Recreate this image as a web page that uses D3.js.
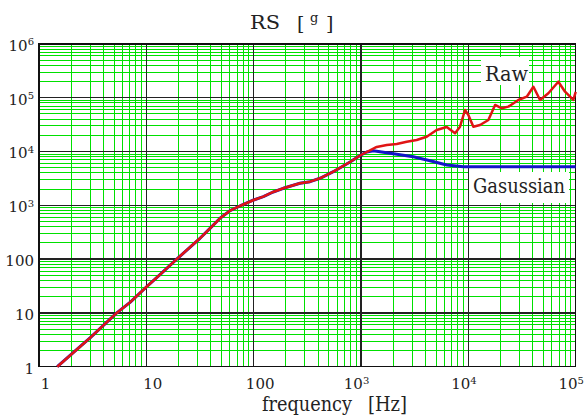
<!DOCTYPE html>
<html><head><meta charset="utf-8">
<script src="https://cdn.jsdelivr.net/npm/d3@7/dist/d3.min.js"></script>
<style>
body{margin:0;background:#fff}svg{display:block}
svg text{font-family:"DejaVu Serif","Noto Serif",Georgia,serif;}
</style>
</head><body>
<svg id="c" width="584" height="420"></svg>
<script>
// ---- data ----
const rawFreq = [1.48, 2.41, 2.99, 5.3, 7.05, 10, 13.4, 19.2, 31.6, 39.2, 48.6, 60.2, 74.6, 100, 123, 152, 189, 270, 335, 415, 552, 790, 979, 1130, 1400, 1738, 2152, 2666, 3302, 4090, 5067, 6290, 7520, 8360, 9310, 10000, 11130, 12850, 15360, 17740, 20480, 23590, 29240, 35000, 40360, 46560, 55640, 68900, 79600, 95000, 100000];
const rawValue = [1, 2.35, 3.43, 10, 15.7, 30.3, 51.4, 100, 244, 374, 575, 796, 973, 1258, 1449, 1772, 2076, 2570, 2754, 3186, 4227, 6400, 8450, 9820, 12170, 13250, 13830, 15280, 16420, 18900, 25200, 28650, 21870, 29040, 59300, 47860, 29040, 31190, 38650, 73450, 63800, 68400, 91000, 104800, 160700, 91000, 121300, 199100, 129800, 91000, 128200];
const gaussFreq = [1.48, 2.41, 2.99, 5.3, 7.05, 10, 13.4, 19.2, 31.6, 39.2, 48.6, 60.2, 74.6, 100, 123, 152, 189, 270, 335, 415, 552, 790, 979, 1130, 1303, 1503, 2152, 3070, 4395, 6290, 8980, 12850, 30000, 100000];
const gaussValue = [1, 2.35, 3.43, 10, 15.7, 30.3, 51.4, 100, 244, 374, 575, 796, 973, 1258, 1449, 1772, 2076, 2570, 2754, 3186, 4227, 6400, 8450, 9820, 10380, 9950, 8900, 8030, 6760, 5625, 5236, 5236, 5200, 5200];
const xTickValues = [1, 10, 100, 1e3, 1e4, 1e5];
const xTickLabels = ["1", "10", "100", "10^3", "10^4", "10^5"];
const yTickValues = [1, 10, 100, 1e3, 1e4, 1e5, 1e6];
const yTickLabels = ["1", "10", "100", "10^3", "10^4", "10^5", "10^6"];
const titleText = ["RS", "[", "g", "]"];
const xAxisTitle = ["frequency", "[Hz]"];
const seriesLabels = ["Raw", "Gasussian"];

// ---- drawing ----
const svg = d3.select("#c");
const x = d3.scaleLog().domain([1, 1e5]).range([39, 575.7]);
const y = d3.scaleLog().domain([1, 1e6]).range([366.7, 44]);
const [x0, x1] = x.range();
const [y0, y1] = y.range();
const isMajor = v => Math.abs(Math.log10(v) - Math.round(Math.log10(v))) < 1e-9;

svg.append("rect").attr("width", 584).attr("height", 420).attr("fill", "#fff");

const grid = svg.append("g").attr("shape-rendering", "crispEdges");
grid.selectAll(".xm").data(x.ticks().filter(v => !isMajor(v))).join("line")
  .attr("x1", d => x(d)).attr("x2", d => x(d)).attr("y1", y0).attr("y2", y1)
  .attr("stroke", "#00e000").attr("stroke-width", 1);
grid.selectAll(".ym").data(y.ticks().filter(v => !isMajor(v))).join("line")
  .attr("y1", d => y(d)).attr("y2", d => y(d)).attr("x1", x0).attr("x2", x1)
  .attr("stroke", "#00e000").attr("stroke-width", 1);
grid.selectAll(".xM").data(xTickValues).join("line")
  .attr("x1", d => x(d)).attr("x2", d => x(d)).attr("y1", y0).attr("y2", y1)
  .attr("stroke", "#222").attr("stroke-width", 1.3);
grid.selectAll(".yM").data(yTickValues).join("line")
  .attr("y1", d => y(d)).attr("y2", d => y(d)).attr("x1", x0).attr("x2", x1)
  .attr("stroke", "#222").attr("stroke-width", 1.3);
grid.append("rect").attr("x", x0).attr("y", y1).attr("width", x1 - x0).attr("height", y0 - y1)
  .attr("fill", "none").attr("stroke", "#111").attr("stroke-width", 1.3);

const line = d3.line().x(d => x(d[0])).y(d => y(d[1]));
svg.append("path").datum(d3.zip(gaussFreq, gaussValue)).attr("d", line)
  .attr("fill", "none").attr("stroke", "#1414c8").attr("stroke-width", 3).attr("stroke-linejoin", "round");
svg.append("path").datum(d3.zip(rawFreq, rawValue)).attr("d", line)
  .attr("fill", "none").attr("stroke", "#e01414").attr("stroke-width", 2.5).attr("stroke-linejoin", "round");

// series labels with white boxes
svg.append("rect").attr("x", 481).attr("y", 57).attr("width", 48).attr("height", 28).attr("fill", "#fff");
svg.append("text").attr("x", 485).attr("y", 81).attr("font-size", 20).attr("fill", "#222")
  .attr("textLength", 43).attr("lengthAdjust", "spacingAndGlyphs").text(seriesLabels[0]);
svg.append("rect").attr("x", 469).attr("y", 172).attr("width", 100).attr("height", 31).attr("fill", "#fff");
svg.append("text").attr("x", 473).attr("y", 193).attr("font-size", 20).attr("fill", "#222")
  .attr("textLength", 92).attr("lengthAdjust", "spacingAndGlyphs").text(seriesLabels[1]);

function fmt(sel, labels, offsets) {
  sel.each(function (d, i) {
    const t = d3.select(this);
    const [base, sup] = labels[i].split("^");
    t.text(null);
    t.append("tspan").text(base);
    if (sup) {
      t.append("tspan").attr("dy", "-0.55em").attr("font-size", "10px").text(sup);
      if (offsets) t.attr("dx", offsets[1]);
    } else if (offsets) t.attr("dx", offsets[0]);
  });
}

const gx = svg.append("g").attr("transform", `translate(0,${y0})`)
  .call(d3.axisBottom(x).tickValues(xTickValues).tickSize(0).tickPadding(12));
gx.select(".domain").remove();
gx.attr("font-family", null);
gx.selectAll(".tick text").attr("font-size", 15).attr("fill", "#222");
fmt(gx.selectAll(".tick text"), xTickLabels, [6, -5]);

const gy = svg.append("g").attr("transform", `translate(${x0},0)`)
  .call(d3.axisLeft(y).tickValues(yTickValues).tickSize(0).tickPadding(5));
gy.select(".domain").remove();
gy.attr("font-family", null);
gy.selectAll(".tick text").attr("font-size", 15).attr("fill", "#222").attr("dy", "0.42em");
fmt(gy.selectAll(".tick text"), yTickLabels, null);

// title
const tt = svg.append("g").attr("fill", "#222");
tt.append("text").attr("x", 250).attr("y", 29).attr("font-size", 18)
  .attr("textLength", 30).attr("lengthAdjust", "spacingAndGlyphs").text(titleText[0]);
tt.append("text").attr("x", 297).attr("y", 30).attr("font-size", 19).text(titleText[1]);
tt.append("text").attr("x", 310).attr("y", 22).attr("font-size", 13).text(titleText[2]);
tt.append("text").attr("x", 326).attr("y", 30).attr("font-size", 19).text(titleText[3]);

// x axis title
const xt = svg.append("g").attr("fill", "#222");
xt.append("text").attr("x", 262).attr("y", 411).attr("font-size", 20)
  .attr("textLength", 90).attr("lengthAdjust", "spacingAndGlyphs").text(xAxisTitle[0]);
xt.append("text").attr("x", 368).attr("y", 411).attr("font-size", 20)
  .attr("textLength", 39).attr("lengthAdjust", "spacingAndGlyphs").text(xAxisTitle[1]);
</script>
</body></html>
